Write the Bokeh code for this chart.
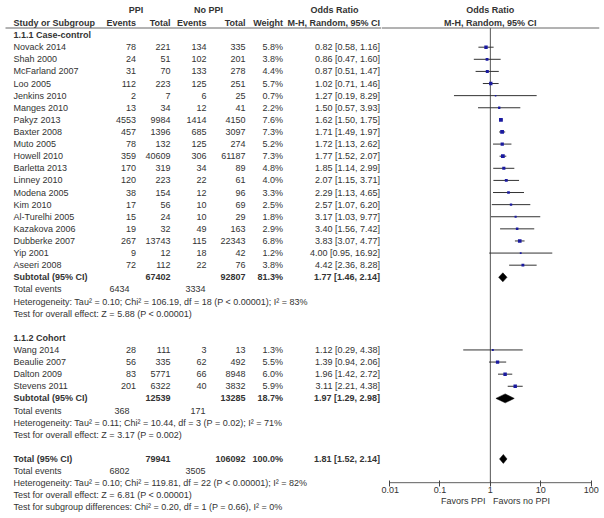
from bokeh.plotting import figure
from bokeh.layouts import row
from bokeh.models import ColumnDataSource, Range1d, FixedTicker, Span
from bokeh.core.properties import value
from bokeh.embed import file_html
from bokeh.resources import INLINE

# ---------------- data ----------------
cc_study = ["Novack 2014", "Shah 2000", "McFarland 2007", "Loo 2005", "Jenkins 2010",
            "Manges 2010", "Pakyz 2013", "Baxter 2008", "Muto 2005", "Howell 2010",
            "Barletta 2013", "Linney 2010", "Modena 2005", "Kim 2010", "Al-Turelhi 2005",
            "Kazakova 2006", "Dubberke 2007", "Yip 2001", "Aseeri 2008"]
cc_ppi_events = [78, 24, 31, 112, 2, 13, 4553, 457, 78, 359, 170, 120, 38, 17, 15, 19, 267, 9, 72]
cc_ppi_total = [221, 51, 70, 223, 7, 34, 9984, 1396, 132, 40609, 319, 223, 154, 56, 24, 32, 13743, 12, 112]
cc_no_events = [134, 102, 133, 125, 6, 12, 1414, 685, 125, 306, 34, 22, 12, 10, 10, 49, 115, 18, 22]
cc_no_total = [335, 201, 278, 251, 25, 41, 4150, 3097, 274, 61187, 89, 61, 96, 69, 29, 163, 22343, 42, 76]
cc_weight = [5.8, 3.8, 4.4, 5.7, 0.7, 2.2, 7.6, 7.3, 5.2, 7.3, 4.8, 4.0, 3.3, 2.5, 1.8, 2.9, 6.8, 1.2, 3.8]
cc_or = [0.82, 0.86, 0.87, 1.02, 1.27, 1.50, 1.62, 1.71, 1.72, 1.77, 1.85, 2.07, 2.29, 2.57, 3.17, 3.40, 3.83, 4.00, 4.42]
cc_lo = [0.58, 0.47, 0.51, 0.71, 0.19, 0.57, 1.50, 1.49, 1.13, 1.52, 1.14, 1.15, 1.13, 1.07, 1.03, 1.56, 3.07, 0.95, 2.36]
cc_hi = [1.16, 1.60, 1.47, 1.46, 8.29, 3.93, 1.75, 1.97, 2.62, 2.07, 2.99, 3.71, 4.65, 6.20, 9.77, 7.42, 4.77, 16.92, 8.28]

co_study = ["Wang 2014", "Beaulie 2007", "Dalton 2009", "Stevens 2011"]
co_ppi_events = [28, 56, 83, 201]
co_ppi_total = [111, 335, 5771, 6322]
co_no_events = [3, 62, 66, 40]
co_no_total = [13, 492, 8948, 3832]
co_weight = [1.3, 5.5, 6.0, 5.9]
co_or = [1.12, 1.39, 1.96, 3.11]
co_lo = [0.29, 0.94, 1.42, 2.21]
co_hi = [4.38, 2.06, 2.72, 4.38]

# pooled: case-control subtotal, cohort subtotal, overall total
pool_label = ["Subtotal (95% CI)", "Subtotal (95% CI)", "Total (95% CI)"]
pool_ppi_total = [67402, 12539, 79941]
pool_no_total = [92807, 13285, 106092]
pool_weight = [81.3, 18.7, 100.0]
pool_or = [1.77, 1.97, 1.81]
pool_lo = [1.46, 1.29, 1.52]
pool_hi = [2.14, 2.98, 2.14]
pool_ppi_events = [6434, 368, 6802]
pool_no_events = [3334, 171, 3505]
het_tau2 = [0.10, 0.11, 0.10]
het_chi2 = [106.19, 10.44, 119.81]
het_df = [18, 3, 22]
het_p = ["< 0.00001", "= 0.02", "< 0.00001"]
het_i2 = [83, 71, 82]
z_val = [5.88, 3.17, 6.81]
z_p = ["< 0.00001", "= 0.002", "< 0.00001"]
sub_chi2 = 0.20
sub_df = 1
sub_p = "= 0.66"
sub_i2 = 0

group_titles = ["1.1.1 Case-control", "1.1.2 Cohort"]
tick_values = [0.01, 0.1, 1, 10, 100]
tick_labels = ["0.01", "0.1", "1", "10", "100"]
null_or = 1.0
favors_left = "Favors PPI"
favors_right = "Favors no PPI"

# ---------------- layout constants (image pixels) ----------------
FONT = value("Liberation Sans")
FS = "9px"
TXT = "#333333"
Y0, DY = 46.7, 12.11          # image y of first study row, row pitch
W, H = 604, 518


def r_of(img_y):
    return (img_y - Y0) / DY


R_H1, R_H2 = -3.1, -2.03
X_NAME, X_PE, X_PT, X_NE, X_NT, X_W, X_CI = 13, 135.5, 170, 206, 245, 282.5, 379.5
X_TE_P, X_TE_N = 129, 205
LEFT_W = 381

texts = {}


def add(x, r, s, align="right", bold=False):
    d = texts.setdefault((align, bold), dict(x=[], y=[], t=[]))
    d["x"].append(x)
    d["y"].append(r)
    d["t"].append(s)


def ci_str(o, l, h):
    return f"{o:.2f} [{l:.2f}, {h:.2f}]"


# headers
add(135.5, R_H1, "PPI", "center", True)
add(208, R_H1, "No PPI", "center", True)
add(334, R_H1, "Odds Ratio", "center", True)
add(X_NAME, R_H2, "Study or Subgroup", "left", True)
add(X_PE, R_H2, "Events", "right", True)
add(X_PT, R_H2, "Total", "right", True)
add(X_NE, R_H2, "Events", "right", True)
add(X_NT, R_H2, "Total", "right", True)
add(X_W, R_H2, "Weight", "right", True)
add(X_CI, R_H2, "M-H, Random, 95% CI", "right", True)

groups = [
    (cc_study, cc_ppi_events, cc_ppi_total, cc_no_events, cc_no_total, cc_weight, cc_or, cc_lo, cc_hi),
    (co_study, co_ppi_events, co_ppi_total, co_no_events, co_no_total, co_weight, co_or, co_lo, co_hi),
]

sq = dict(x=[], y=[], s=[])
ci = dict(x0=[], x1=[], y=[])
dia = dict(xs=[], ys=[])
DH = 0.37


def pooled_block(gi, r):
    add(X_NAME, r, pool_label[gi], "left", True)
    add(X_PT, r, str(pool_ppi_total[gi]), "right", True)
    add(X_NT, r, str(pool_no_total[gi]), "right", True)
    add(X_W, r, f"{pool_weight[gi]:.1f}%", "right", True)
    add(X_CI, r, ci_str(pool_or[gi], pool_lo[gi], pool_hi[gi]), "right", True)
    dia["xs"].append([pool_lo[gi], pool_or[gi], pool_hi[gi], pool_or[gi]])
    dia["ys"].append([r, r - DH, r, r + DH])
    r += 1
    add(X_NAME, r, "Total events", "left")
    add(X_TE_P, r, str(pool_ppi_events[gi]))
    add(X_TE_N, r, str(pool_no_events[gi]))
    r += 1
    add(X_NAME, r, f"Heterogeneity: Tau\u00b2 = {het_tau2[gi]:.2f}; Chi\u00b2 = {het_chi2[gi]:.2f}, "
                   f"df = {het_df[gi]} (P {het_p[gi]}); I\u00b2 = {het_i2[gi]}%", "left")
    r += 1
    add(X_NAME, r, f"Test for overall effect: Z = {z_val[gi]:.2f} (P {z_p[gi]})", "left")
    return r + 1


r = -1
for gi, g in enumerate(groups):
    add(X_NAME, r, group_titles[gi], "left", True)
    r += 1
    names, pe, pt, ne, nt, w, o, lo, hi = g
    for i in range(len(names)):
        add(X_NAME, r, names[i], "left")
        add(X_PE, r, str(pe[i]))
        add(X_PT, r, str(pt[i]))
        add(X_NE, r, str(ne[i]))
        add(X_NT, r, str(nt[i]))
        add(X_W, r, f"{w[i]:.1f}%")
        add(X_CI, r, ci_str(o[i], lo[i], hi[i]))
        sq["x"].append(o[i]); sq["y"].append(r); sq["s"].append(1.2 * w[i] ** 0.5 + 0.5)
        ci["x0"].append(lo[i]); ci["x1"].append(hi[i]); ci["y"].append(r)
        r += 1
    r = pooled_block(gi, r) + 1

r = pooled_block(2, r)
add(X_NAME, r, f"Test for subgroup differences: Chi\u00b2 = {sub_chi2:.2f}, df = {sub_df} "
               f"(P {sub_p}), I\u00b2 = {sub_i2}%", "left")

HEADER_R = r_of(27.5)

# ---------------- left (table) figure ----------------
left = figure(width=LEFT_W, height=H, output_backend="svg", toolbar_location=None,
              x_range=Range1d(0, LEFT_W), y_range=Range1d(r_of(H), r_of(0)),
              x_axis_type=None, y_axis_type=None, min_border=0,
              outline_line_color=None, background_fill_color=None, border_fill_color=None)
left.frame_align = False
left.grid.visible = False
for (align, bold), d in texts.items():
    left.text(x="x", y="y", text="t", source=ColumnDataSource(d),
              text_align=align, text_baseline="middle", text_font=FONT,
              text_font_size=FS, text_color=TXT,
              text_font_style="bold" if bold else "normal")
left.segment(x0=[5], x1=[LEFT_W], y0=[HEADER_R], y1=[HEADER_R], line_color="#666666", line_width=1)

# ---------------- right (forest) figure ----------------
RIGHT_W = W - LEFT_W
MB_R = 5
FRAME_W = RIGHT_W - MB_R
X_01, X_100 = 389.0, 590.7           # pixel positions of 0.01 and 100
DEC = (X_100 - X_01) / 4
x_start = 10 ** (-2 - (X_01 - LEFT_W) / DEC)
x_end = 10 ** (2 + (LEFT_W + FRAME_W - X_100) / DEC)
AX_IMG = 483
right = figure(width=RIGHT_W, height=H, output_backend="svg", toolbar_location=None,
               x_axis_type="log", y_axis_type=None,
               x_range=Range1d(x_start, x_end),
               y_range=Range1d(r_of(AX_IMG), r_of(0)),
               min_border_left=0, min_border_right=MB_R, min_border_top=0,
               min_border_bottom=H - AX_IMG,
               outline_line_color=None, background_fill_color=None, border_fill_color=None)
right.frame_align = False
right.xgrid.visible = False
right.ygrid.visible = False

right.add_layout(Span(location=HEADER_R, dimension="width", line_color="#666666", line_width=1))
right.text(x=[null_or, null_or], y=[R_H1, R_H2], text=["Odds Ratio", "M-H, Random, 95% CI"],
           text_align="center", text_baseline="middle", text_font=FONT, text_font_size=FS,
           text_color=TXT, text_font_style="bold")
AXIS_R = r_of(482.3)
right.segment(x0=[null_or], x1=[null_or], y0=[HEADER_R], y1=[AXIS_R],
              line_color="#555555", line_width=1)
right.segment(x0=[tick_values[0]], x1=[tick_values[-1]], y0=[AXIS_R], y1=[AXIS_R],
              line_color="#444444", line_width=1)
right.segment(x0="x0", x1="x1", y0="y", y1="y", source=ColumnDataSource(ci),
              line_color="#333333", line_width=1)
right.scatter(x="x", y="y", size="s", marker="square", source=ColumnDataSource(sq),
              fill_color="#1a1aa0", line_color=None)
right.patches(xs="xs", ys="ys", source=ColumnDataSource(dia), fill_color="black",
              line_color="black", line_width=0.5)

ax = right.xaxis[0]
ax.ticker = FixedTicker(ticks=tick_values)
ax.major_label_overrides = {v: l for v, l in zip(tick_values, tick_labels)}
ax.axis_line_color = None
ax.minor_tick_line_color = None
ax.major_tick_in = 3
ax.major_tick_out = 3
ax.major_tick_line_color = "#444444"
ax.major_label_standoff = 0
ax.major_label_text_font = "Liberation Sans"
ax.major_label_text_font_size = FS
ax.major_label_text_color = TXT
NB = "\u00a0"
ax.axis_label = NB * 4 + favors_left + NB * 3 + favors_right
ax.axis_label_standoff = 0
ax.axis_label_text_font = "Liberation Sans"
ax.axis_label_text_font_size = FS
ax.axis_label_text_font_style = "normal"
ax.axis_label_text_color = TXT

layout = row(left, right)
open("out.html", "w").write(file_html(layout, INLINE))
